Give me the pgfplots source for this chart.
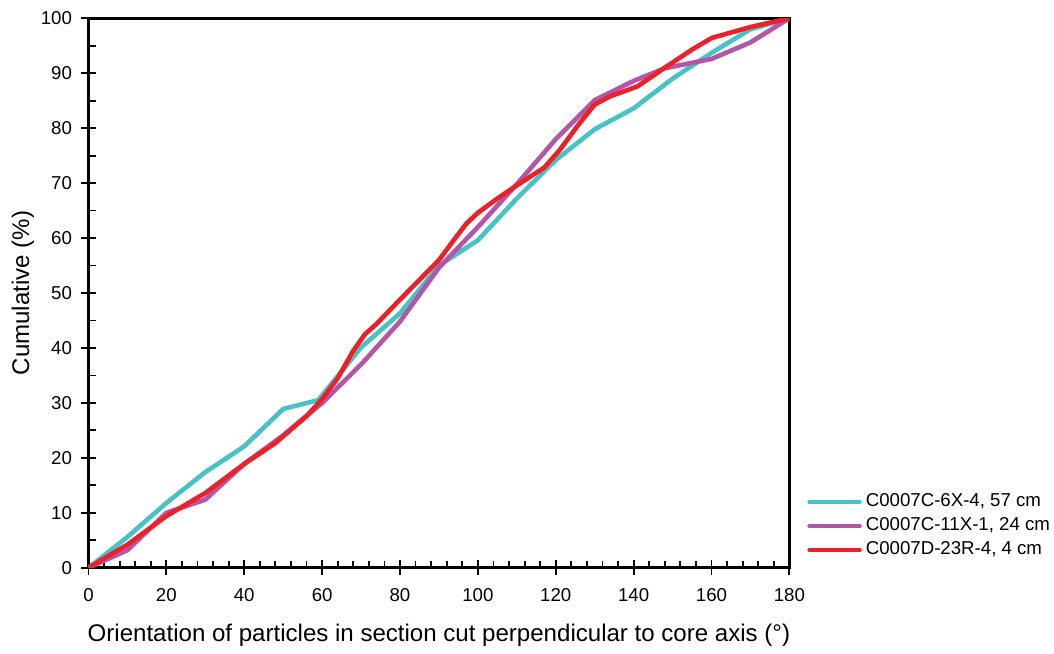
\documentclass[border=0pt]{standalone}
\usepackage{fontspec}
\setmainfont{Liberation Sans}
\usepackage{pgfplots}
\pgfplotsset{compat=1.18}
\definecolor{cteal}{RGB}{72,194,196}
\definecolor{cpurp}{RGB}{180,86,168}
\definecolor{cred}{RGB}{236,32,38}
\begin{document}
\begin{tikzpicture}
\begin{axis}[
  scale only axis,
  width=349.5bp, height=274bp,
  xmin=0, xmax=180, ymin=0, ymax=100,
  xtick={0,20,...,180}, ytick={0,10,...,100},
  xtick pos=bottom, ytick pos=left,
  minor x tick num=4, minor y tick num=1,
  tick align=center,
  major tick length=7.5bp,
  minor tick length=3.6bp,
  minor x tick style={yshift=1.8bp},
  minor y tick style={xshift=1.8bp},
  tick style={black, line width=0.9bp},
  axis line style={black, line width=1.4bp},
  /pgf/number format/assume math mode=true,
  ticklabel style={font=\fontsize{9.3bp}{11bp}\selectfont},
  yticklabel style={xshift=-1bp},
  xticklabel style={yshift=-3bp},
  xlabel={Orientation of particles in section cut perpendicular to core axis (°)},
  ylabel={Cumulative (\%)},
  label style={font=\fontsize{12bp}{14bp}\selectfont},
  xlabel style={yshift=-4.5bp},
  ylabel style={yshift=-3.5bp},
  legend style={at={(rel axis cs:1.025,0.01)}, anchor=south west, draw=none, fill=none,
    font=\fontsize{9.3bp}{11bp}\selectfont, row sep=0bp, inner sep=0pt},
  legend cell align=left,
  legend image code/.code={\draw[#1, line width=2.2bp] (0bp,0bp) -- (25bp,0bp);},
  every axis plot/.append style={line width=2.3bp, line join=round, line cap=round},
]
\addplot[cteal] coordinates {
(0,0) (10,5.6) (20,11.8) (30,17.4) (40,22.1) (50,28.9) (59,30.5) (70,40.1) (80,46.3) (90,55) (100,59.6) (110,67.2) (120,74.2) (130,79.8) (140,83.6) (150,89) (160,93.7) (170,98) (180,100)
};
\addlegendentry{C0007C-6X-4, 57 cm}
\addplot[cpurp] coordinates {
(0,0) (10,3.2) (20,10) (30,12.4) (40,18.9) (50,24.1) (60,30) (70,37) (80,44.8) (90,54.6) (100,62) (110,69.8) (120,78) (130,85.1) (140,88.6) (148,90.9) (160,92.6) (170,95.6) (180,100)
};
\addlegendentry{C0007C-11X-1, 24 cm}
\addplot[cred] coordinates {
(0,0) (10,4.2) (20,9.4) (30,13.6) (40,18.9) (48,22.7) (56,27.6) (60,30.7) (64,34.5) (68,39.5) (71,42.5) (74,44.4) (80,48.8) (90,56) (94,59.8) (97,62.6) (100,64.6) (105,67.2) (110,69.6) (117,72.8) (121,76) (126,80.8) (130,84.3) (134,85.8) (141,87.6) (148,91) (155,94.3) (160,96.4) (164,97.2) (170,98.4) (180,100)
};
\addlegendentry{C0007D-23R-4, 4 cm}
\end{axis}
\path ([yshift=2.5bp]current bounding box.north);
\path ([xshift=-2.5bp]current bounding box.west);
\end{tikzpicture}
\end{document}
